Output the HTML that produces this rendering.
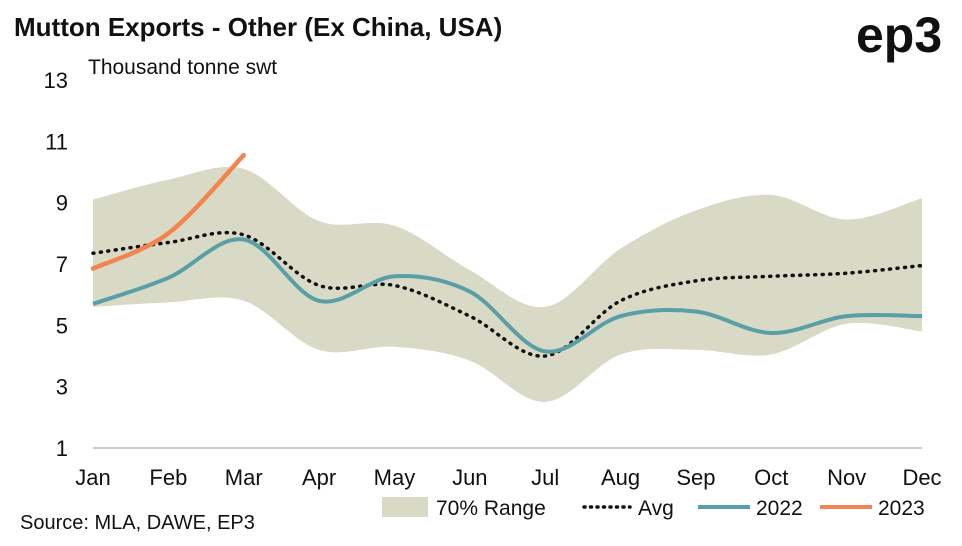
<!DOCTYPE html>
<html><head><meta charset="utf-8"><style>
body{margin:0;background:#fff;width:962px;height:541px;overflow:hidden;font-family:"Liberation Sans",sans-serif}
</style></head><body>
<svg width="962" height="541" xmlns="http://www.w3.org/2000/svg">
<text x="14" y="36" font-size="26" font-weight="bold" fill="#111">Mutton Exports - Other (Ex China, USA)</text>
<text x="856" y="52" font-size="50" font-weight="bold" fill="#111">ep3</text>
<text x="88" y="74" font-size="21" fill="#111">Thousand tonne swt</text>
<g id="grid"></g>
<g id="marks"></g>
<g id="axes"></g>
<text x="20" y="529" font-size="20" fill="#111">Source: MLA, DAWE, EP3</text>
<g>
<rect x="382" y="497" width="46" height="20" fill="#d9dac6"/>
<text x="436" y="515" font-size="21" fill="#111">70% Range</text>
<line x1="584" y1="507" x2="630" y2="507" stroke="#111" stroke-width="3.5" stroke-dasharray="1,5.5" stroke-linecap="round"/>
<text x="638" y="515" font-size="21" fill="#111">Avg</text>
<line x1="698" y1="507" x2="750" y2="507" stroke="#5a9fa8" stroke-width="4"/>
<text x="756" y="515" font-size="21" fill="#111">2022</text>
<line x1="820" y1="507" x2="872" y2="507" stroke="#f4844f" stroke-width="4"/>
<text x="878" y="515" font-size="21" fill="#111">2023</text>
</g>
</svg>
<script>
const months=["Jan","Feb","Mar","Apr","May","Jun","Jul","Aug","Sep","Oct","Nov","Dec"];
const yTicks=[1,3,5,7,9,11,13];
const rangeHigh=[9.1,9.75,10.1,8.4,8.25,6.8,5.6,7.5,8.75,9.25,8.45,9.15];
const rangeLow=[5.6,5.75,5.8,4.2,4.3,3.85,2.5,4.05,4.2,4.05,5.05,4.8];
const avg=[7.35,7.7,7.95,6.3,6.3,5.3,4.0,5.8,6.45,6.6,6.7,6.95];
const s2022=[5.7,6.55,7.8,5.8,6.6,6.1,4.15,5.3,5.45,4.75,5.3,5.3];
const s2023=[6.85,8.0,10.55];
const NS="http://www.w3.org/2000/svg";
const x=i=>93+i*(922-93)/11;
const y=v=>448-(v-1)*(368/12);
function mk(t,a,p){const e=document.createElementNS(NS,t);for(const k in a)e.setAttribute(k,a[k]);p.appendChild(e);return e;}
function bez(pts){let d="";
for(let i=0;i<pts.length-1;i++){const p0=pts[Math.max(i-1,0)],p1=pts[i],p2=pts[i+1],p3=pts[Math.min(i+2,pts.length-1)];
d+=" C"+[p1[0]+(p2[0]-p0[0])/6,p1[1]+(p2[1]-p0[1])/6]+" "+[p2[0]-(p3[0]-p1[0])/6,p2[1]-(p3[1]-p1[1])/6]+" "+p2;}return d;}
function curve(vals){const pts=vals.map((v,i)=>[x(i),y(v)]);return "M"+pts[0]+bez(pts);}
const grid=document.getElementById("grid"),marks=document.getElementById("marks"),axes=document.getElementById("axes");
yTicks.forEach(t=>{
if(t===1){const l=mk("line",{x1:93,x2:922,y1:y(t),y2:y(t),stroke:"#999","stroke-width":1},grid);

}
const tx=mk("text",{x:68,y:y(t)+8,"font-size":22,fill:"#111","text-anchor":"end"},axes);tx.textContent=t;


});
months.forEach((m,i)=>{
const tx=mk("text",{x:x(i),y:485,"font-size":22,fill:"#111","text-anchor":"middle"},axes);tx.textContent=m;


});
const hp=rangeHigh.map((v,i)=>[x(i),y(v)]);
const lp=rangeLow.map((v,i)=>[x(i),y(v)]).reverse();
const band=mk("path",{d:"M"+hp[0]+bez(hp)+" L"+lp[0]+bez(lp)+" Z",fill:"#d9dac6"},marks);


const a=mk("path",{d:curve(avg),fill:"none",stroke:"#111","stroke-width":3.5,"stroke-dasharray":"1,6.5","stroke-linecap":"round"},marks);


const l22=mk("path",{d:curve(s2022),fill:"none",stroke:"#5a9fa8","stroke-width":4},marks);


const l23=mk("path",{d:curve(s2023),fill:"none",stroke:"#f4844f","stroke-width":4.5,"stroke-linecap":"round"},marks);


</script>
</body></html>
